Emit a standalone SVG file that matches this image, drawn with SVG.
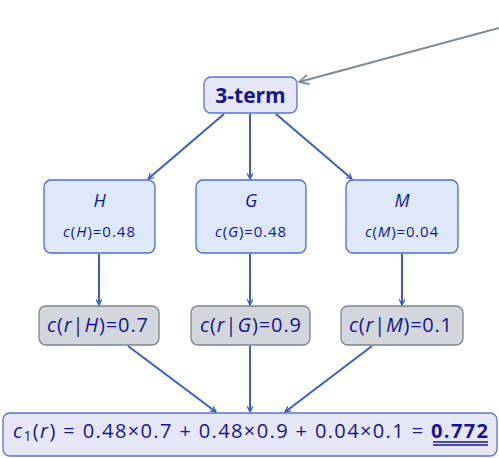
<svg xmlns="http://www.w3.org/2000/svg" width="499" height="458" viewBox="0 0 499 458">
<defs>
<marker id="ab" viewBox="0 0 10 10" refX="9" refY="5" markerWidth="7" markerHeight="7" orient="auto" markerUnits="userSpaceOnUse">
<path d="M1,1 L9,5 L1,9" fill="none" stroke="#3a5fb5" stroke-width="1.8"/>
</marker>
<marker id="ag" viewBox="0 0 10 10" refX="9" refY="5" markerWidth="12" markerHeight="12" orient="auto" markerUnits="userSpaceOnUse">
<path d="M1,1 L9,5 L1,9" fill="none" stroke="#7f8a94" stroke-width="1.5"/>
</marker>
<style>
text{font-family:"Open Sans","Noto Sans","DejaVu Sans",sans-serif;fill:#16168a;text-anchor:middle}
.bl{fill:#dde9fb;stroke:#4a6fc0;stroke-width:1.3}
.gr{fill:#d3d6dd;stroke:#7d8290;stroke-width:1.3}
.lv{fill:#e6e6f7;stroke:#5a75c8;stroke-width:1.3}
.c{stroke:#3a5fb5;stroke-width:2;fill:none;marker-end:url(#ab)}
.i{font-style:italic}
</style>
</defs>
<g id="connectors">
<line x1="499" y1="28" x2="299" y2="82" stroke="#7f8a94" stroke-width="2" marker-end="url(#ag)"/>
<line class="c" x1="224" y1="114" x2="148" y2="179"/>
<line class="c" x1="250" y1="114" x2="250" y2="179"/>
<line class="c" x1="276" y1="114" x2="352" y2="179"/>
<line class="c" x1="99" y1="254" x2="99" y2="305"/>
<line class="c" x1="250" y1="254" x2="250" y2="305"/>
<line class="c" x1="402" y1="254" x2="402" y2="305"/>
<line class="c" x1="128" y1="346" x2="216" y2="412"/>
<line class="c" x1="250" y1="346" x2="250" y2="412"/>
<line class="c" x1="372" y1="346" x2="285" y2="412"/>
</g>
<g id="n3term">
<rect class="lv" x="204" y="77" width="93" height="36" rx="7"/>
<text x="250.5" y="103" font-size="21" font-weight="bold">3-term</text>
</g>
<g id="nH">
<rect class="bl" x="44" y="180" width="111" height="73" rx="7"/>
<text x="99.5" y="207" font-size="18" class="i">H</text>
<text x="63" y="237" font-size="15" text-anchor="start" textLength="72" lengthAdjust="spacing" style="text-anchor:start"><tspan class="i">c</tspan>(<tspan class="i">H</tspan>)=0.48</text>
</g>
<g id="nG">
<rect class="bl" x="196" y="180" width="110" height="73" rx="7"/>
<text x="251" y="207" font-size="18" class="i">G</text>
<text x="215" y="237" font-size="15" textLength="71" lengthAdjust="spacing" style="text-anchor:start"><tspan class="i">c</tspan>(<tspan class="i">G</tspan>)=0.48</text>
</g>
<g id="nM">
<rect class="bl" x="346" y="180" width="112" height="73" rx="7"/>
<text x="402" y="207" font-size="18" class="i">M</text>
<text x="365" y="237" font-size="15" textLength="73" lengthAdjust="spacing" style="text-anchor:start"><tspan class="i">c</tspan>(<tspan class="i">M</tspan>)=0.04</text>
</g>
<g id="nrH">
<rect class="gr" x="39" y="306" width="120" height="39" rx="7"/>
<text x="47" y="332" font-size="20" textLength="101" lengthAdjust="spacing" style="text-anchor:start"><tspan class="i">c</tspan>(<tspan class="i">r</tspan>|<tspan class="i">H</tspan>)=0.7</text>
</g>
<g id="nrG">
<rect class="gr" x="191" y="306" width="119" height="39" rx="7"/>
<text x="200" y="332" font-size="20" textLength="101" lengthAdjust="spacing" style="text-anchor:start"><tspan class="i">c</tspan>(<tspan class="i">r</tspan>|<tspan class="i">G</tspan>)=0.9</text>
</g>
<g id="nrM">
<rect class="gr" x="341" y="306" width="122" height="39" rx="7"/>
<text x="349" y="332" font-size="20" textLength="103" lengthAdjust="spacing" style="text-anchor:start"><tspan class="i">c</tspan>(<tspan class="i">r</tspan>|<tspan class="i">M</tspan>)=0.1</text>
</g>
<g id="nc1">
<rect class="lv" x="3" y="413" width="494" height="43" rx="7"/>
<text x="13" y="438" font-size="20" textLength="475" lengthAdjust="spacing" style="text-anchor:start"><tspan class="i">c</tspan><tspan font-size="14" dy="3">1</tspan><tspan dy="-3">(</tspan><tspan class="i">r</tspan>) = 0.48×0.7 + 0.48×0.9 + 0.04×0.1 = <tspan font-weight="bold">0.772</tspan></text>
<line x1="433" y1="442" x2="488" y2="442" stroke="#16168a" stroke-width="1.3"/>
<line x1="433" y1="445" x2="488" y2="445" stroke="#16168a" stroke-width="1.3"/>
</g>
</svg>
